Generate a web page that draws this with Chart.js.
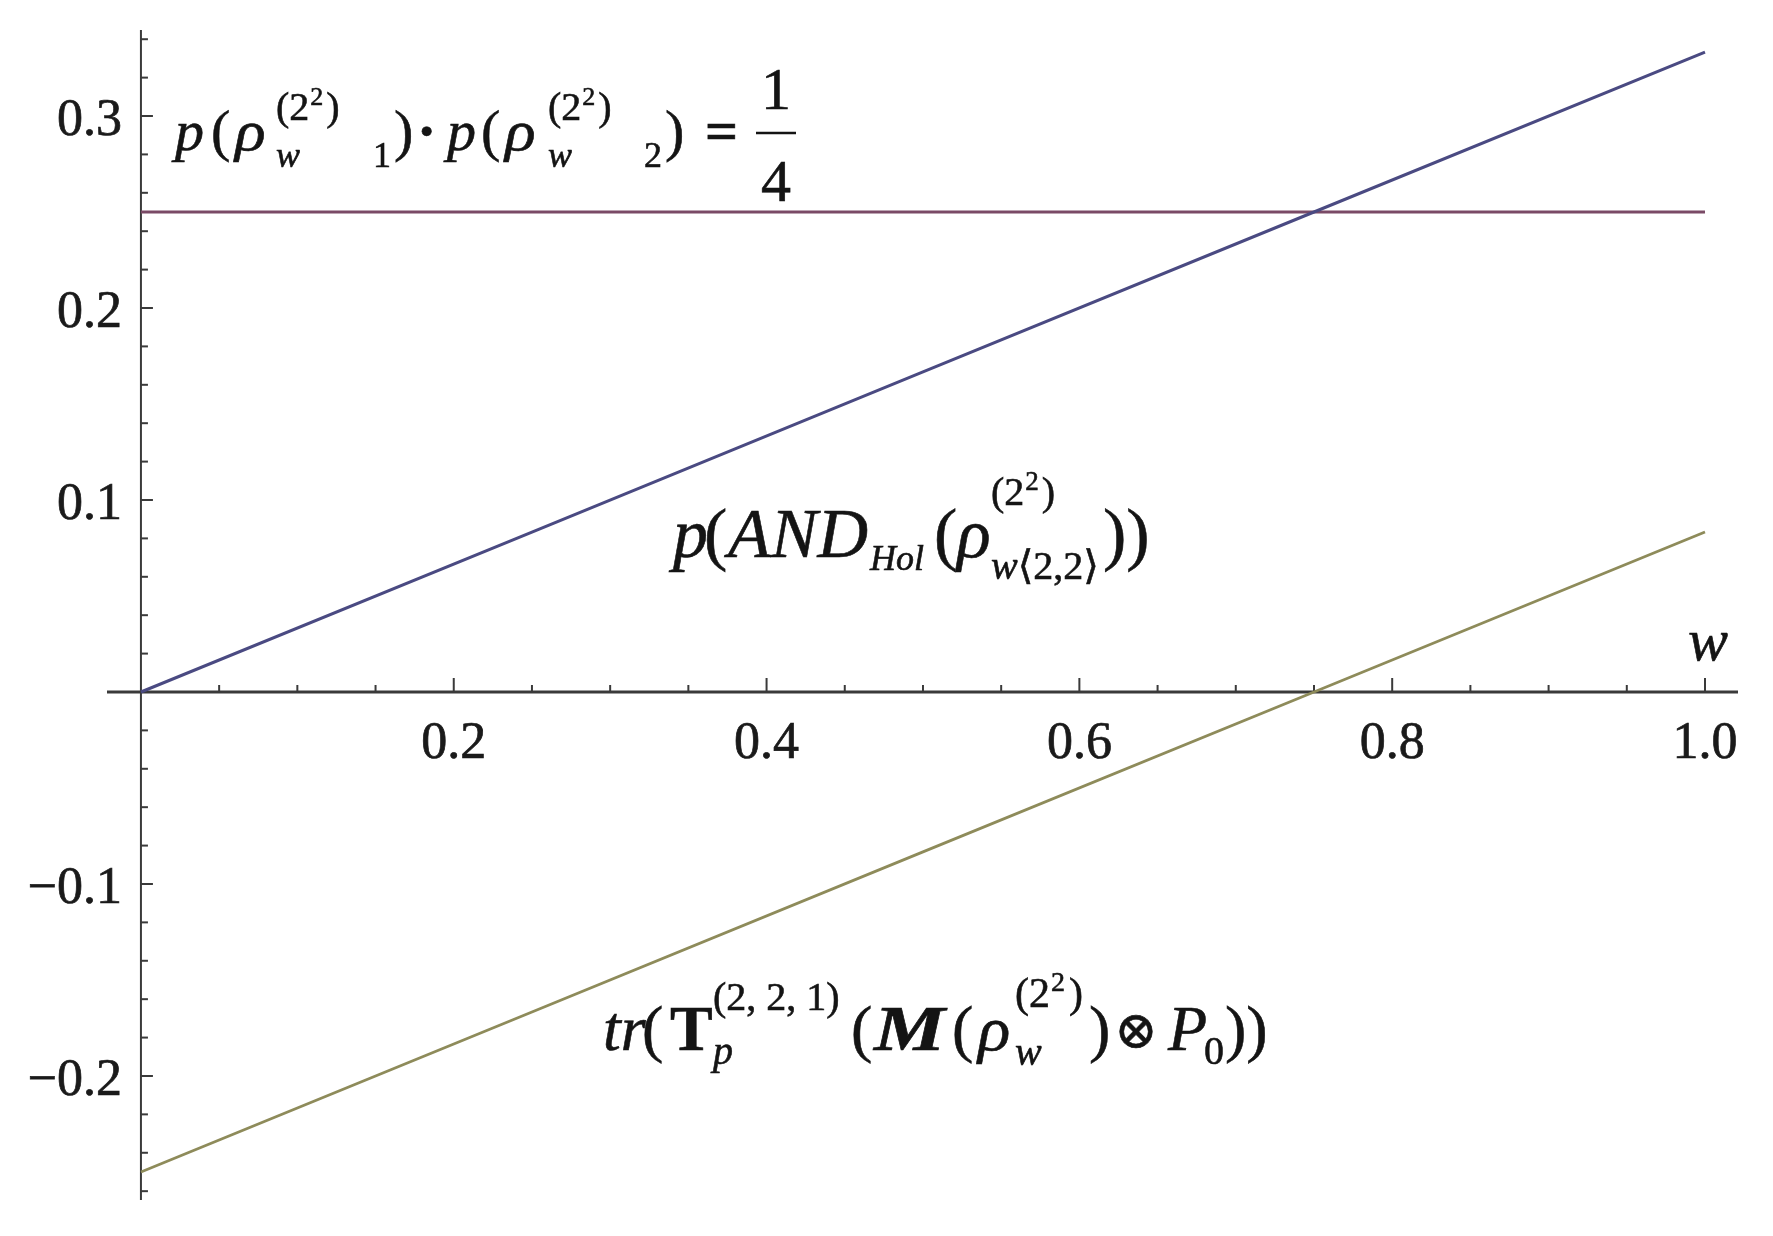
<!DOCTYPE html>
<html>
<head>
<meta charset="utf-8">
<script src="https://cdn.jsdelivr.net/npm/chart.js@4/dist/chart.umd.min.js"></script>
<style>
  body { margin: 0; background: #fff; }
  #wrap { width: 1773px; height: 1236px; }
</style>
</head>
<body>
<div id="wrap"><canvas id="plot" width="1773" height="1236"></canvas></div>
<script>
  // values, all three curves are straight lines in w
  const wValues = [0, 0.25, 0.5, 0.75, 1];
  const andHolProb = [0, 0.0833, 0.1667, 0.25, 0.3333];
  const productProb = [0.25, 0.25, 0.25, 0.25, 0.25];
  const traceValues = [-0.25, -0.1667, -0.0833, 0, 0.0833];

  const xTickValues = [0.2, 0.4, 0.6, 0.8, 1.0];
  const xTickLabels = ["0.2", "0.4", "0.6", "0.8", "1.0"];
  const yTickValues = [-0.2, -0.1, 0.1, 0.2, 0.3];
  const yTickLabels = ["\u22120.2", "\u22120.1", "0.1", "0.2", "0.3"];

  const SERIF = "'Liberation Serif', 'Times New Roman', 'DejaVu Serif', serif";

  const toPoints = function (ys) {
    return wValues.map(function (w, i) { return { x: w, y: ys[i] }; });
  };

  // text a touch heavier, the original is a blurry Times
  const heavyText = function (ctx, t, x, y) {
    ctx.fillText(t, x, y);
    ctx.strokeText(t, x, y);
  };

  // small helper for the math labels: each piece either sits at its own x
  // (relative to the label origin) or follows on from the previous piece
  const drawMath = function (ctx, ox, oy, pieces) {
    let cursor = ox;
    pieces.forEach(function (p) {
      ctx.font = p.f;
      let sx = p.sx || 1;
      let x = (p.x !== undefined) ? ox + p.x : cursor + (p.dx || 0);
      let w = ctx.measureText(p.t).width * sx;
      if (p.center) { x = ox + p.center - w / 2; }
      if (sx !== 1) {
        ctx.save();
        ctx.translate(x, oy + (p.dy || 0));
        ctx.scale(sx, 1);
        heavyText(ctx, p.t, 0, 0);
        ctx.restore();
      } else {
        heavyText(ctx, p.t, x, oy + (p.dy || 0));
      }
      cursor = x + w;
    });
  };

  const fnt = function (style, size) {
    return `${style} ${size}px ${SERIF}`;
  };

  const mathAxesPlugin = {
    id: 'mathAxes',
    beforeDatasetsDraw(chart) {
      const ctx = chart.ctx, xs = chart.scales.x, ys = chart.scales.y;
      const area = chart.chartArea;
      const x0 = xs.getPixelForValue(0), y0 = ys.getPixelForValue(0);
      ctx.save();
      ctx.strokeStyle = '#3a3a3a';
      ctx.lineCap = 'butt';

      // axes
      ctx.lineWidth = 3;
      ctx.beginPath();
      ctx.moveTo(area.left, y0);
      ctx.lineTo(area.right, y0);
      ctx.stroke();
      ctx.lineWidth = 2;
      ctx.beginPath();
      ctx.moveTo(x0, area.top);
      ctx.lineTo(x0, area.bottom);
      ctx.stroke();

      // x ticks every 0.05, longer at the labelled ones
      ctx.lineWidth = 2;
      for (let i = 1; i <= 20; i++) {
        let v = i * 0.05;
        let px = xs.getPixelForValue(v);
        let len = (i % 4 === 0) ? 14 : 7;
        ctx.beginPath();
        ctx.moveTo(px, y0);
        ctx.lineTo(px, y0 - len);
        ctx.stroke();
      }
      // y ticks every 0.02
      for (let i = -13; i <= 17; i++) {
        if (i === 0) continue;
        let v = i * 0.02;
        let py = ys.getPixelForValue(v);
        let len = (i % 5 === 0) ? 12 : 7;
        ctx.beginPath();
        ctx.moveTo(x0, py);
        ctx.lineTo(x0 + len, py);
        ctx.stroke();
      }

      // tick labels
      ctx.fillStyle = '#1a1a1a';
      ctx.strokeStyle = '#1a1a1a';
      ctx.lineWidth = 0.7;
      ctx.font = `52px ${SERIF}`;
      ctx.textBaseline = 'alphabetic';
      ctx.textAlign = 'center';
      xTickValues.forEach(function (v, i) {
        heavyText(ctx, xTickLabels[i], xs.getPixelForValue(v), y0 + 66);
      });
      ctx.textAlign = 'right';
      yTickValues.forEach(function (v, i) {
        heavyText(ctx, yTickLabels[i], x0 - 19, ys.getPixelForValue(v) + 19);
      });
      ctx.restore();
    },
    afterDatasetsDraw(chart) {
      const ctx = chart.ctx, xs = chart.scales.x, ys = chart.scales.y;
      ctx.save();
      ctx.fillStyle = '#141414';
      ctx.strokeStyle = '#141414';
      ctx.lineWidth = 0.6;
      ctx.textAlign = 'left';
      ctx.textBaseline = 'alphabetic';

      // axis label
      ctx.font = fnt('italic', 60);
      heavyText(ctx, 'w', xs.getPixelForValue(1) - 17, ys.getPixelForValue(0) - 32);

      // p(rho_1) . p(rho_2) = 1/4
      drawMath(ctx, 175, 150, [
        { t: 'p', f: fnt('italic', 58), x: 0 },
        { t: '(', f: fnt('', 58), x: 36 },
        { t: '\u03C1', f: fnt('italic', 58), x: 60, sx: 1.1 },
        { t: 'w', f: fnt('italic', 36), x: 101, dy: 17 },
        { t: '(2', f: fnt('', 40), x: 101, dy: -30 },
        { t: '2', f: fnt('', 26), dy: -45, dx: 1 },
        { t: ')', f: fnt('', 40), dy: -30, dx: 3 },
        { t: '1', f: fnt('', 36), x: 198, dy: 17 },
        { t: ')', f: fnt('', 58), x: 219 },
        { t: '\u00B7', f: fnt('bold', 58), x: 242 },
        { t: 'p', f: fnt('italic', 58), x: 272 },
        { t: '(', f: fnt('', 58), x: 306 },
        { t: '\u03C1', f: fnt('italic', 58), x: 330, sx: 1.1 },
        { t: 'w', f: fnt('italic', 36), x: 373, dy: 17 },
        { t: '(2', f: fnt('', 40), x: 373, dy: -30 },
        { t: '2', f: fnt('', 26), dy: -45, dx: 1 },
        { t: ')', f: fnt('', 40), dy: -30, dx: 3 },
        { t: '2', f: fnt('', 36), x: 469, dy: 17 },
        { t: ')', f: fnt('', 58), x: 490 },
        { t: '=', f: fnt('bold', 58), x: 530 },
        { t: '1', f: fnt('', 60), center: 601, dy: -41 },
        { t: '4', f: fnt('', 60), center: 601, dy: 51 }
      ]);
      ctx.lineWidth = 2.5;
      ctx.beginPath();
      ctx.moveTo(175 + 581, 133);
      ctx.lineTo(175 + 621, 133);
      ctx.stroke();
      ctx.lineWidth = 0.6;

      // p(AND_Hol(rho))
      drawMath(ctx, 673, 557, [
        { t: 'p', f: fnt('italic', 70), x: 0 },
        { t: '(', f: fnt('', 70), x: 31 },
        { t: 'AND', f: fnt('italic', 70), x: 55 },
        { t: 'Hol', f: fnt('italic', 36), x: 197, dy: 13 },
        { t: '(', f: fnt('', 70), x: 261 },
        { t: '\u03C1', f: fnt('italic', 70), x: 284 },
        { t: '(2', f: fnt('', 40), x: 318, dy: -52 },
        { t: '2', f: fnt('', 27), dy: -67, dx: 1 },
        { t: ')', f: fnt('', 40), dy: -52, dx: 3 },
        { t: 'w', f: fnt('italic', 40), x: 318, dy: 22 },
        { t: '\u27E8', f: fnt('', 40), dy: 22 },
        { t: '2,2', f: fnt('', 40), dy: 22 },
        { t: '\u27E9', f: fnt('', 40), dy: 22 },
        { t: '))', f: fnt('', 70), x: 430 }
      ]);

      // tr(T_p(M(rho) (x) P_0))
      drawMath(ctx, 603, 1050, [
        { t: 'tr', f: fnt('italic', 64), x: 0 },
        { t: '(', f: fnt('', 64), x: 39 },
        { t: 'T', f: fnt('bold', 64), x: 67 },
        { t: '(2, 2, 1)', f: fnt('', 40), x: 110, dy: -40 },
        { t: 'p', f: fnt('italic', 40), x: 110, dy: 14 },
        { t: '(', f: fnt('', 64), x: 248 },
        { t: 'M', f: fnt('italic bold', 64), x: 271, sx: 1.25 },
        { t: '(', f: fnt('', 64), x: 349 },
        { t: '\u03C1', f: fnt('italic', 64), x: 375, sx: 1.05 },
        { t: '(2', f: fnt('', 42), x: 412, dy: -43 },
        { t: '2', f: fnt('', 28), dy: -59, dx: 1 },
        { t: ')', f: fnt('', 42), dy: -43, dx: 4 },
        { t: 'w', f: fnt('italic', 40), x: 412, dy: 15 },
        { t: ')', f: fnt('', 64), x: 486 },
        { t: '\u2297', f: `52px 'DejaVu Serif', 'DejaVu Sans', serif`, x: 511, dy: -2 },
        { t: 'P', f: fnt('italic', 64), x: 565 },
        { t: '0', f: fnt('', 40), x: 601, dy: 14 },
        { t: '))', f: fnt('', 64), x: 622 }
      ]);
      ctx.restore();
    }
  };

  new Chart(document.getElementById('plot'), {
    type: 'scatter',
    data: {
      datasets: [
        {
          label: 'p(AND_Hol)',
          data: toPoints(andHolProb),
          showLine: true,
          borderColor: '#4a4a82',
          borderWidth: 3,
          pointRadius: 0
        },
        {
          label: 'p1 p2',
          data: toPoints(productProb),
          showLine: true,
          borderColor: '#7a4a66',
          borderWidth: 3,
          pointRadius: 0
        },
        {
          label: 'trace',
          data: toPoints(traceValues),
          showLine: true,
          borderColor: '#8e8b5a',
          borderWidth: 2.8,
          pointRadius: 0
        }
      ]
    },
    options: {
      responsive: false,
      animation: false,
      events: [],
      layout: { padding: { left: 107, right: 35, top: 30, bottom: 36 } },
      scales: {
        x: { type: 'linear', min: -0.0217, max: 1.0211, display: false },
        y: { type: 'linear', min: -0.2646, max: 0.3448, display: false }
      },
      plugins: {
        legend: { display: false },
        tooltip: { enabled: false }
      }
    },
    plugins: [mathAxesPlugin]
  });
</script>
</body>
</html>
